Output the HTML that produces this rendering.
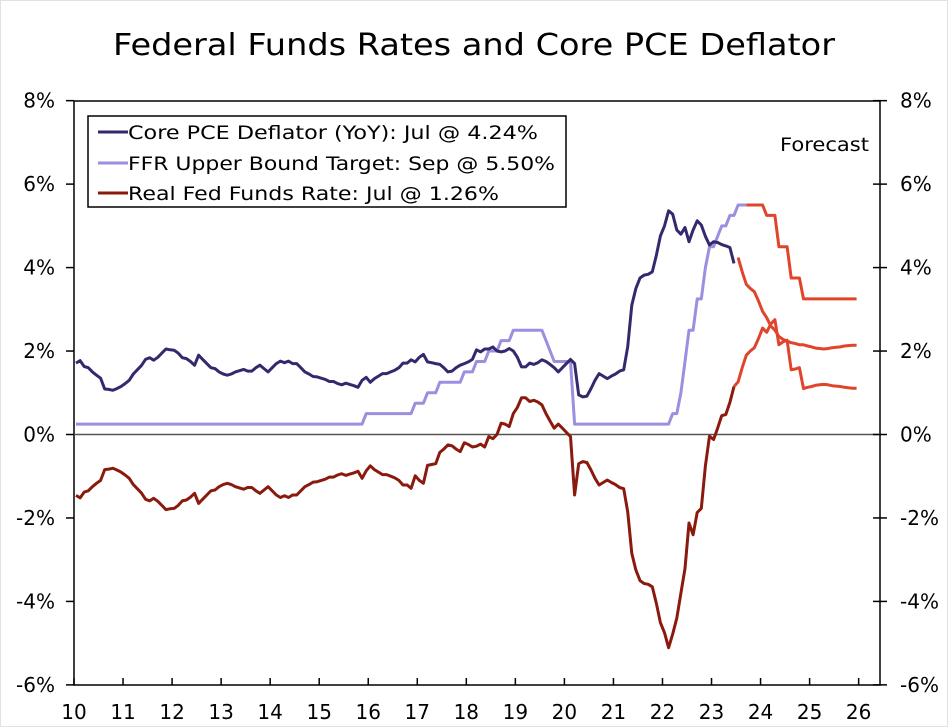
<!DOCTYPE html>
<html><head><meta charset="utf-8"><style>
html,body{margin:0;padding:0;background:#fff;}
svg{display:block;font-family:"DejaVu Sans","Liberation Sans",sans-serif;}
</style></head><body>
<svg id="chart" width="948" height="727" viewBox="0 0 948 727" xmlns="http://www.w3.org/2000/svg">
<rect x="0.5" y="0.5" width="947" height="726" fill="#fff" stroke="#e2e2e2"/>
<text x="474" y="55" text-anchor="middle" font-size="30" textLength="722" lengthAdjust="spacingAndGlyphs" fill="#000">Federal Funds Rates and Core PCE Deflator</text>
<g id="axes"></g>
<g id="series"></g>
<g>
<rect x="88" y="116" width="478" height="91" fill="#fff" stroke="#000" stroke-width="1.5"/>
<line x1="98" y1="132" x2="128" y2="132" stroke="#332a6e" stroke-width="3"/>
<text x="128" y="139" font-size="19" textLength="410" lengthAdjust="spacingAndGlyphs">Core PCE Deflator (YoY): Jul @ 4.24%</text>
<line x1="98" y1="163" x2="128" y2="163" stroke="#9b8fe0" stroke-width="3"/>
<text x="128" y="170" font-size="19" textLength="427" lengthAdjust="spacingAndGlyphs">FFR Upper Bound Target: Sep @ 5.50%</text>
<line x1="98" y1="193" x2="128" y2="193" stroke="#8b1a0e" stroke-width="3"/>
<text x="128" y="200" font-size="19" textLength="371" lengthAdjust="spacingAndGlyphs">Real Fed Funds Rate: Jul @ 1.26%</text>
</g>
<text x="780" y="151" font-size="19" textLength="89" lengthAdjust="spacingAndGlyphs">Forecast</text>
</svg>
<script>
const yTicks = [8, 6, 4, 2, 0, -2, -4, -6];
const yearLabels = ["10","11","12","13","14","15","16","17","18","19","20","21","22","23","24","25","26"];
// Core PCE YoY, monthly from Jan 2010
const corePce = [
1.71,1.77,1.63,1.6,1.5,1.42,1.35,1.09,1.08,1.06,1.1,1.15,
1.22,1.3,1.45,1.55,1.65,1.8,1.84,1.78,1.85,1.95,2.05,2.03,
2.02,1.95,1.84,1.82,1.75,1.66,1.9,1.8,1.7,1.6,1.58,1.5,
1.45,1.42,1.45,1.5,1.53,1.56,1.52,1.52,1.6,1.66,1.58,1.5,
1.6,1.7,1.76,1.72,1.76,1.7,1.7,1.6,1.5,1.45,1.39,1.38,
1.35,1.32,1.27,1.27,1.22,1.19,1.23,1.2,1.17,1.13,1.3,1.37,
1.25,1.34,1.4,1.46,1.46,1.5,1.54,1.6,1.71,1.71,1.79,1.74,
1.85,1.92,1.74,1.72,1.7,1.68,1.6,1.5,1.52,1.6,1.66,1.7,
1.74,1.8,2.03,1.98,2.05,2.05,2.1,2.0,1.98,2.0,2.06,2.0,
1.85,1.62,1.62,1.71,1.68,1.72,1.79,1.75,1.68,1.6,1.5,1.6,
1.7,1.8,1.7,0.95,0.9,0.92,1.1,1.3,1.46,1.4,1.34,1.4,
1.45,1.52,1.55,2.1,3.1,3.5,3.75,3.82,3.84,3.9,4.3,4.76,
5.0,5.36,5.28,4.9,4.8,4.96,4.62,4.9,5.12,5.02,4.75,4.54,
4.62,4.6,4.55,4.52,4.48,4.1,4.24,3.9,3.6,3.5,3.42,3.2,
2.95,2.8,2.6,2.5,2.35,2.28,2.24,2.2,2.18,2.15,2.15,2.12,
2.1,2.07,2.06,2.05,2.06,2.08,2.09,2.1,2.12,2.13,2.14,2.14];
// FFR upper bound target, monthly from Jan 2010
const ffrUpper = [
0.25,0.25,0.25,0.25,0.25,0.25,0.25,0.25,0.25,0.25,0.25,0.25,
0.25,0.25,0.25,0.25,0.25,0.25,0.25,0.25,0.25,0.25,0.25,0.25,
0.25,0.25,0.25,0.25,0.25,0.25,0.25,0.25,0.25,0.25,0.25,0.25,
0.25,0.25,0.25,0.25,0.25,0.25,0.25,0.25,0.25,0.25,0.25,0.25,
0.25,0.25,0.25,0.25,0.25,0.25,0.25,0.25,0.25,0.25,0.25,0.25,
0.25,0.25,0.25,0.25,0.25,0.25,0.25,0.25,0.25,0.25,0.25,0.5,
0.5,0.5,0.5,0.5,0.5,0.5,0.5,0.5,0.5,0.5,0.5,0.75,
0.75,0.75,1,1,1,1.25,1.25,1.25,1.25,1.25,1.25,1.5,
1.5,1.5,1.75,1.75,1.75,2,2,2,2.25,2.25,2.25,2.5,
2.5,2.5,2.5,2.5,2.5,2.5,2.5,2.25,2,1.75,1.75,1.75,
1.75,1.75,0.25,0.25,0.25,0.25,0.25,0.25,0.25,0.25,0.25,0.25,
0.25,0.25,0.25,0.25,0.25,0.25,0.25,0.25,0.25,0.25,0.25,0.25,
0.25,0.25,0.5,0.5,1,1.75,2.5,2.5,3.25,3.25,4,4.5,
4.5,4.75,5,5,5.25,5.25,5.5,5.5,5.5,5.5,5.5,5.5,
5.5,5.25,5.25,5.25,4.5,4.5,4.5,3.75,3.75,3.75,3.25,3.25,
3.25,3.25,3.25,3.25,3.25,3.25,3.25,3.25,3.25,3.25,3.25,3.25];
// Real fed funds rate = FFR upper bound minus core PCE
const realRate = ffrUpper.map((f, i) => +(f - corePce[i]).toFixed(2));
const pceLastActual = 161, ffrLastActual = 164, realLastActual = 161;

const NS = "http://www.w3.org/2000/svg";
const X0 = 74, X1 = 880, YTOP = 101, YBOT = 685, YEAR_W = 49.04;
const yScale = v => 434.5 - v * 41.73;
const xYear = i => X0 + i * YEAR_W;
const xMonth = m => X0 + (m + 0.5) * YEAR_W / 12;
function mk(tag, attrs, parent) {
  const e = document.createElementNS(NS, tag);
  for (const k in attrs) e.setAttribute(k, attrs[k]);
  parent.appendChild(e);
  return e;
}
const axes = document.getElementById("axes");
const frame = mk("path", {d:`M${X0},${YTOP} H${X1} V${YBOT} H${X0} Z`, fill:"none", stroke:"#000", "stroke-width":1.5}, axes);


const zl = mk("line", {x1:X0, x2:X1, y1:yScale(0), y2:yScale(0), stroke:"#555", "stroke-width":1.5}, axes);


yTicks.forEach(v => {
  const y = yScale(v);
  const t1 = mk("line", {x1:X0-8, x2:X0, y1:y, y2:y, stroke:"#000", "stroke-width":1.5}, axes);
  
  
  const t2 = mk("line", {x1:X1-7, x2:X1+7, y1:y, y2:y, stroke:"#000", "stroke-width":1.5}, axes);
  
  
  const l = mk("text", {x:55, y:y+7, "text-anchor":"end", "font-size":20}, axes);
  l.textContent = v + "%";
  
  
  const r = mk("text", {x:900, y:y+7, "font-size":20}, axes);
  r.textContent = v + "%";
  
  
});
yearLabels.forEach((lab, i) => {
  const x = xYear(i);
  const t = mk("line", {x1:x, x2:x, y1:YBOT-7, y2:YBOT, stroke:"#000", "stroke-width":1.5}, axes);
  
  
  const l = mk("text", {x:x, y:719, "text-anchor":"middle", "font-size":20}, axes);
  l.textContent = lab;
  
  
});
const series = document.getElementById("series");
function line(arr, from, to, color, name) {
  let d = "";
  for (let m = from; m <= to; m++) d += (m === from ? "M" : "L") + xMonth(m).toFixed(1) + "," + yScale(arr[m]).toFixed(1);
  const p = mk("path", {d:d, fill:"none", stroke:color, "stroke-width":3, "stroke-linejoin":"round"}, series);
  
  
}
const last = corePce.length - 1;
line(ffrUpper, 0, ffrLastActual, "#9b8fe0", "ffr-line");
line(ffrUpper, ffrLastActual, last, "#e0442b", "ffr-forecast-line");
line(realRate, 0, realLastActual, "#8b1a0e", "real-rate-line");
line(realRate, realLastActual, last, "#e0442b", "real-rate-forecast-line");
line(corePce, 0, pceLastActual, "#332a6e", "core-pce-line");
line(corePce, pceLastActual + 1, last, "#e0442b", "core-pce-forecast-line");
</script>
</body></html>
